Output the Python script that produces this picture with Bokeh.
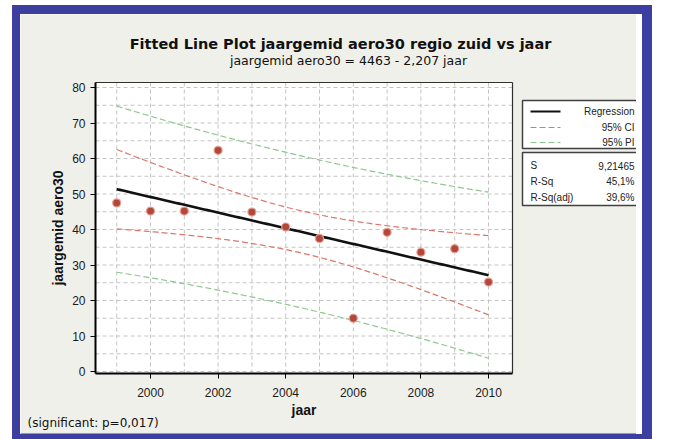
import numpy as np
from bokeh.plotting import figure
from bokeh.models import Range1d, FixedTicker
from bokeh.embed import file_html
from bokeh.resources import INLINE
from bokeh.core.properties import value

# ---------------- data ----------------
years = [1999, 2000, 2001, 2002, 2003, 2004, 2005, 2006, 2007, 2008, 2009, 2010]
aero30 = [47.5, 45.2, 45.2, 62.3, 44.9, 40.7, 37.5, 15.0, 39.2, 33.6, 34.6, 25.2]
x_ticks = [2000, 2002, 2004, 2006, 2008, 2010]
y_ticks = [0, 10, 20, 30, 40, 50, 60, 70, 80]
y_grid = list(range(0, 85, 5))
title_text = "Fitted Line Plot jaargemid aero30 regio zuid vs jaar"
subtitle_text = "jaargemid aero30 = 4463 - 2,207 jaar"
legend_labels = ["Regression", "95% CI", "95% PI"]
stat_names = ["S", "R-Sq", "R-Sq(adj)"]
stat_values = ["9,21465", "45,1%", "39,6%"]
note_text = "(significant: p=0,017)"
x_label = "jaar"
y_label = "jaargemid aero30"
T_975_DF10 = 2.228

# ---------------- fit ----------------
xa = np.array(years, dtype=float)
ya = np.array(aero30, dtype=float)
n = len(xa)
slope, intercept = np.polyfit(xa, ya, 1)
resid = ya - (intercept + slope * xa)
s = np.sqrt(np.sum(resid ** 2) / (n - 2))
xm = xa.mean()
sxx = np.sum((xa - xm) ** 2)
xs = np.linspace(xa.min(), xa.max(), 120)
fit = intercept + slope * xs
ci = T_975_DF10 * s * np.sqrt(1.0 / n + (xs - xm) ** 2 / sxx)
pi = T_975_DF10 * s * np.sqrt(1.0 + 1.0 / n + (xs - xm) ** 2 / sxx)

# ---------------- geometry helpers (page pixels -> data) ----------------
def dx(px):
    return 2000 + (px - 150) / 33.8

def dy(py):
    return (371 - py) / 3.55

FONT = "Liberation Sans"
WFONT = "DejaVu Sans"
BLUE = "#3c3f9f"
PANEL = "#f0f0ea"
CX0, CY0, CX1 = 20, 14, 660        # canvas box on the page
CH = 434                           # canvas height (box is cut by the bottom border at 434)
X_MIN, X_MAX = dx(95), dx(512)
Y_MIN, Y_MAX = dy(373), dy(82)

p = figure(width=CX1 - CX0, height=CH, output_backend="svg", toolbar_location=None,
           x_range=Range1d(dx(CX0), dx(CX1)), y_range=Range1d(dy(CY0 + CH), dy(CY0)),
           min_border=0)
p.styles = {"margin-left": "12px", "margin-top": "5px",
            "border-left": f"8px solid {BLUE}", "border-top": f"9px solid {BLUE}",
            "border-right": f"10px solid {BLUE}", "border-bottom": f"5px solid {BLUE}",
            "padding-right": "6px"}
p.background_fill_color = PANEL
p.border_fill_color = PANEL
p.outline_line_color = None
p.grid.visible = False

# panel shadow on the right / bottom
p.segment(x0=[dx(659), dx(CX0)], x1=[dx(659), dx(660)], y0=[dy(CY0), dy(433)],
          y1=[dy(434), dy(433)], line_color=["#303030", "#9a9a96"], line_width=[2, 1])

# titles and note
p.text(x=[dx(340)], y=[dy(43)], text=[title_text], text_align="center", text_baseline="middle",
       text_font=value(WFONT), text_font_size="14.5px", text_font_style="bold", text_color="#111111")
p.text(x=[dx(348)], y=[dy(60)], text=[subtitle_text], text_align="center", text_baseline="middle",
       text_font=value(WFONT), text_font_size="12.5px", text_color="#111111")
p.text(x=[dx(27)], y=[dy(422)], text=[note_text], text_align="left", text_baseline="middle",
       text_font=value(WFONT), text_font_size="12px", text_color="#111111")

# plot area
p.quad(left=X_MIN, right=X_MAX, bottom=Y_MIN, top=Y_MAX, fill_color="white", line_color=None)
p.segment(x0=years, x1=years, y0=[Y_MIN] * n, y1=[Y_MAX] * n,
          line_color="#c4c4c4", line_dash="4 3", line_width=1)
p.segment(x0=[X_MIN] * len(y_grid), x1=[X_MAX] * len(y_grid), y0=y_grid, y1=y_grid,
          line_color="#c4c4c4", line_dash="4 3", line_width=1)
p.segment(x0=[X_MIN, X_MAX], x1=[X_MAX, X_MAX], y0=[Y_MAX, Y_MIN], y1=[Y_MAX, Y_MAX],
          line_color="#303030", line_width=1.2)

# fit lines
p.line(xs, fit + pi, line_color="#8cc98c", line_dash="6 3", line_width=1.2)
p.line(xs, fit - pi, line_color="#8cc98c", line_dash="6 3", line_width=1.2)
p.line(xs, fit + ci, line_color="#d8776a", line_dash="6 3", line_width=1.2)
p.line(xs, fit - ci, line_color="#d8776a", line_dash="6 3", line_width=1.2)
p.line(xs, fit, line_color="#111111", line_width=2.6)
p.scatter(years, aero30, size=8, fill_color="#b4463c", line_color="#e3a093", line_width=1.2)

# axes (drawn at fixed data locations inside the canvas)
for ax in (p.xaxis, p.yaxis):
    ax.axis_line_color = "black"
    ax.axis_line_width = 2
    ax.major_tick_line_color = "black"
    ax.major_tick_out = 5
    ax.major_tick_in = 0
    ax.minor_tick_line_color = None
    ax.major_label_text_font = FONT
    ax.major_label_text_font_size = "12px"
    ax.major_label_text_color = "#1a1a1a"
    ax.axis_label_text_font = FONT
    ax.axis_label_text_font_size = "14px"
    ax.axis_label_text_font_style = "bold"
    ax.axis_label_text_color = "#111111"
p.xaxis.ticker = FixedTicker(ticks=x_ticks)
p.yaxis.ticker = FixedTicker(ticks=y_ticks)
p.xaxis.bounds = (X_MIN, X_MAX)
p.yaxis.bounds = (Y_MIN, Y_MAX)
p.xaxis.fixed_location = Y_MIN
p.yaxis.fixed_location = X_MIN
p.xaxis.major_label_standoff = 9
p.yaxis.major_label_standoff = 5
p.xaxis.axis_label = x_label
p.yaxis.axis_label = y_label
p.xaxis.axis_label_standoff = 2
p.yaxis.axis_label_standoff = 3

# legend boxes
p.quad(left=[dx(522), dx(522)], right=[dx(643), dx(643)], top=[dy(100), dy(152)],
       bottom=[dy(148), dy(205)], fill_color="white", line_color="#404040", line_width=1.5)
ly = [dy(111), dy(127), dy(142)]
p.segment(x0=[dx(530)], x1=[dx(560)], y0=[ly[0]], y1=[ly[0]], line_color="#111111", line_width=2)
p.segment(x0=[dx(530)], x1=[dx(560)], y0=[ly[1]], y1=[ly[1]], line_color="#d8776a",
          line_dash="6 3", line_width=1.2)
p.segment(x0=[dx(530)], x1=[dx(560)], y0=[ly[2]], y1=[ly[2]], line_color="#8cc98c",
          line_dash="6 3", line_width=1.2)
p.text(x=[dx(634)] * 3, y=ly, text=legend_labels, text_align="right", text_baseline="middle",
       text_font=value(FONT), text_font_size="10px", text_color="#222222")
sy = [dy(165), dy(181), dy(197)]
p.text(x=[dx(530)] * 3, y=sy, text=stat_names, text_align="left", text_baseline="middle",
       text_font=value(FONT), text_font_size="10px", text_color="#222222")
p.text(x=[dx(634)] * 3, y=sy, text=stat_values, text_align="right", text_baseline="middle",
       text_font=value(FONT), text_font_size="10px", text_color="#222222")

open("out.html", "w").write(file_html(p, INLINE))
